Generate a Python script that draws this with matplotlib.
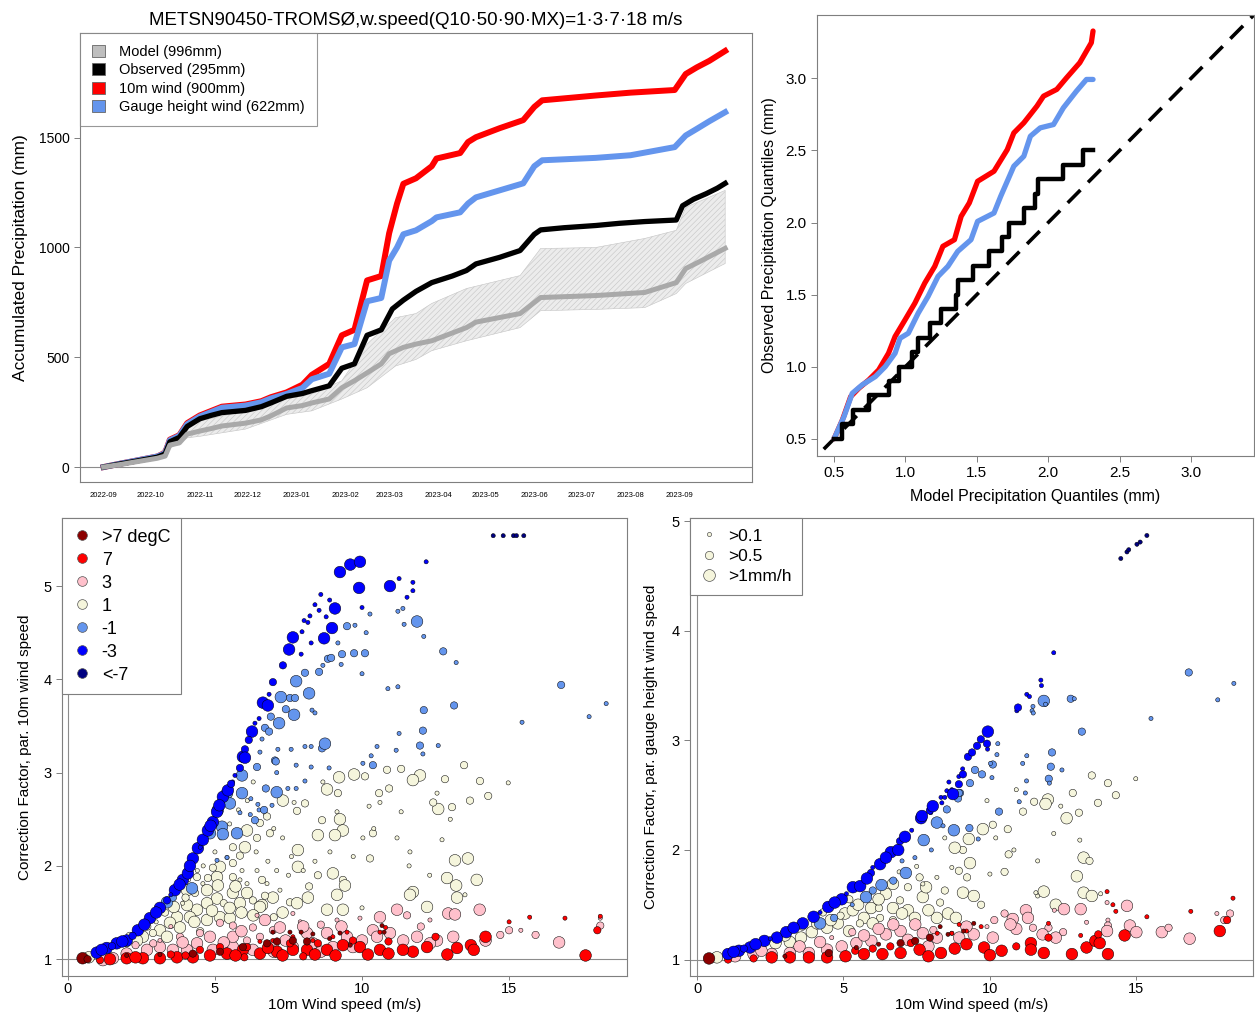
import numpy as np
import pandas as pd
import matplotlib
matplotlib.use("Agg")
import matplotlib.pyplot as plt
from matplotlib.lines import Line2D
from matplotlib.patches import Patch

plt.rcParams["font.family"] = ["Liberation Sans", "DejaVu Sans"]
plt.rcParams["hatch.linewidth"] = 0.4

# ---- accumulated precipitation (mm) ----
obs_dates = ["2022-09-01", "2022-09-12", "2022-09-20", "2022-10-05", "2022-10-10", "2022-10-13",
             "2022-10-19", "2022-10-24", "2022-11-01", "2022-11-08", "2022-11-15", "2022-11-30",
             "2022-12-10", "2022-12-16", "2022-12-26", "2023-01-05", "2023-01-11", "2023-01-22",
             "2023-01-30", "2023-02-07", "2023-02-15", "2023-02-24", "2023-03-03", "2023-03-10",
             "2023-03-18", "2023-03-28", "2023-04-10", "2023-04-19", "2023-04-25", "2023-05-10",
             "2023-05-23", "2023-06-01", "2023-06-05", "2023-06-20", "2023-07-10", "2023-07-25",
             "2023-08-10", "2023-08-30", "2023-09-03", "2023-09-10", "2023-09-18", "2023-09-25",
             "2023-09-30"]
obs_acc = [0, 15, 25, 45, 60, 115, 135, 185, 220, 235, 248, 258, 275, 292, 322, 335, 348, 370,
           450, 470, 600, 625, 720, 760, 800, 840, 870, 895, 925, 955, 986, 1060, 1080, 1090,
           1100, 1110, 1118, 1125, 1190, 1220, 1245, 1270, 1292]

corr_dates = ["2022-09-01", "2022-09-12", "2022-09-20", "2022-10-05", "2022-10-10", "2022-10-13",
              "2022-10-19", "2022-10-24", "2022-11-01", "2022-11-08", "2022-11-15", "2022-11-30",
              "2022-12-10", "2022-12-16", "2022-12-26", "2023-01-05", "2023-01-11", "2023-01-22",
              "2023-01-30", "2023-02-07", "2023-02-15", "2023-02-24", "2023-03-01", "2023-03-06",
              "2023-03-10", "2023-03-18", "2023-03-28", "2023-03-31", "2023-04-15", "2023-04-20",
              "2023-04-25", "2023-05-10", "2023-05-25", "2023-06-01", "2023-06-06", "2023-07-10",
              "2023-08-01", "2023-08-29", "2023-09-05", "2023-09-12", "2023-09-20", "2023-09-30"]
wind10_acc = [0, 16, 27, 48, 65, 125, 145, 200, 235, 255, 275, 285, 300, 318, 340, 375, 420, 470,
              600, 625, 850, 870, 1065, 1200, 1290, 1315, 1370, 1405, 1430, 1480, 1502, 1543, 1580,
              1640, 1670, 1692, 1705, 1717, 1790, 1820, 1850, 1895]
gauge_acc = [0, 16, 27, 48, 63, 122, 142, 195, 230, 250, 270, 280, 295, 312, 333, 360, 400, 425,
             545, 560, 755, 770, 940, 1000, 1060, 1078, 1120, 1137, 1160, 1200, 1228, 1260, 1292,
             1370, 1397, 1408, 1420, 1457, 1510, 1540, 1575, 1616]

model_dates = ["2022-09-01", "2022-09-12", "2022-09-20", "2022-10-05", "2022-10-10", "2022-10-13",
               "2022-10-19", "2022-10-24", "2022-11-01", "2022-11-08", "2022-11-15", "2022-11-30",
               "2022-12-10", "2022-12-16", "2022-12-26", "2023-01-05", "2023-01-11", "2023-01-22",
               "2023-01-30", "2023-02-07", "2023-02-15", "2023-02-24", "2023-03-01", "2023-03-10",
               "2023-03-18", "2023-03-28", "2023-04-19", "2023-04-25", "2023-05-23", "2023-06-05",
               "2023-07-10", "2023-08-10", "2023-08-30", "2023-09-05", "2023-09-15", "2023-09-30"]
model_acc = [0, 12, 22, 40, 50, 100, 110, 150, 164, 175, 187, 200, 215, 233, 269, 280, 292, 310,
             361, 393, 429, 470, 516, 545, 560, 575, 635, 660, 699, 772, 781, 795, 840, 904, 940, 996]

band_dates = ["2022-09-01", "2022-09-20", "2022-10-05", "2022-10-13", "2022-10-24", "2022-11-01",
              "2022-11-30", "2022-12-26", "2023-01-11", "2023-01-30", "2023-02-15", "2023-03-05",
              "2023-03-18", "2023-03-28", "2023-04-19", "2023-05-23", "2023-06-05", "2023-07-10",
              "2023-08-10", "2023-08-30", "2023-09-05", "2023-09-30"]
band_hi = [0, 28, 48, 120, 187, 210, 256, 310, 333, 393, 560, 680, 699, 745, 813, 872, 995, 1000,
           1041, 1078, 1183, 1260]
band_lo = [0, 18, 35, 85, 133, 140, 173, 240, 256, 310, 361, 460, 490, 530, 575, 635, 712, 718,
           726, 790, 836, 927]

month_ticks = ["2022-09", "2022-10", "2022-11", "2022-12", "2023-01", "2023-02", "2023-03",
               "2023-04", "2023-05", "2023-06", "2023-07", "2023-08", "2023-09"]

# ---- quantile-quantile (mm) ----
qq_obs_x = [0.5, 0.553, 0.632, 0.743, 0.881, 0.955, 1.043, 1.089, 1.17, 1.25, 1.355, 1.366, 1.47,
            1.586, 1.678, 1.725, 1.83, 1.91, 1.93, 2.106, 2.244, 2.314]
qq_obs_y = [0.5, 0.6, 0.7, 0.8, 0.9, 1.0, 1.1, 1.2, 1.3, 1.4, 1.5, 1.6, 1.7, 1.8, 1.9, 2.0, 2.1,
            2.2, 2.3, 2.4, 2.5, 2.5]
qq_10m_x = [0.5, 0.558, 0.616, 0.673, 0.743, 0.812, 0.881, 0.927, 0.997, 1.066, 1.135, 1.205, 1.262,
            1.343, 1.39, 1.447, 1.505, 1.62, 1.713, 1.759, 1.829, 1.921, 1.967, 2.06, 2.129, 2.221,
            2.302, 2.314]
qq_10m_y = [0.5, 0.63, 0.792, 0.85, 0.908, 0.977, 1.093, 1.209, 1.325, 1.441, 1.58, 1.696, 1.835,
            1.881, 2.043, 2.136, 2.286, 2.356, 2.506, 2.622, 2.692, 2.808, 2.877, 2.924, 3.005,
            3.109, 3.248, 3.329]
qq_gauge_x = [0.5, 0.569, 0.627, 0.696, 0.789, 0.858, 0.927, 0.962, 1.02, 1.089, 1.158, 1.228,
              1.297, 1.366, 1.459, 1.505, 1.62, 1.667, 1.759, 1.829, 1.875, 1.944, 2.037, 2.106,
              2.198, 2.268, 2.314]
qq_gauge_y = [0.5, 0.653, 0.815, 0.873, 0.931, 1.0, 1.093, 1.197, 1.232, 1.371, 1.487, 1.626,
              1.696, 1.8, 1.881, 2.008, 2.066, 2.182, 2.391, 2.46, 2.599, 2.657, 2.68, 2.796,
              2.912, 2.993, 2.993]

# ---- correction factors: (wind m/s, factor, rain class 0:>0.1 1:>0.5 2:>1mm/h) ----
cf10_navy = [(14.46, 5.54, 0), (14.8, 5.54, 0), (15.15, 5.54, 0), (15.25, 5.54, 0), (15.5, 5.54, 0)]
cf10_blue = [(0.98, 1.07, 2), (1.32, 1.12, 2), (1.66, 1.17, 2), (2.0, 1.2, 2), (2.38, 1.31, 2),
             (2.79, 1.44, 2), (3.13, 1.55, 2), (3.37, 1.63, 1), (3.64, 1.74, 2), (3.91, 1.85, 2),
             (4.08, 1.92, 2), (4.25, 2.08, 2), (4.42, 2.19, 2), (4.59, 2.28, 2), (4.76, 2.38, 2),
             (4.93, 2.47, 2), (5.07, 2.58, 2), (5.27, 2.74, 2), (5.44, 2.81, 2), (5.68, 2.97, 0),
             (5.85, 3.05, 1), (5.95, 3.17, 2), (6.02, 3.25, 1), (6.02, 3.16, 2), (6.26, 3.44, 2),
             (6.36, 3.53, 0), (6.5, 3.58, 0), (6.63, 3.75, 2), (6.8, 3.72, 2), (6.84, 3.84, 0),
             (6.97, 3.97, 1), (7.31, 4.15, 1), (7.52, 4.32, 2), (7.65, 4.45, 2), (7.93, 4.27, 0),
             (7.96, 4.51, 0), (8.03, 4.63, 0), (8.16, 4.61, 0), (8.23, 4.68, 0), (8.27, 4.39, 0),
             (8.4, 4.8, 0), (8.54, 4.74, 0), (8.6, 4.91, 0), (8.71, 4.44, 2), (8.78, 4.67, 0),
             (8.9, 4.85, 0), (8.98, 4.55, 2), (9.08, 4.76, 2), (9.25, 5.15, 2), (9.6, 5.23, 2),
             (9.93, 5.26, 2), (9.9, 4.98, 2), (10.0, 4.77, 0), (10.95, 5.0, 2), (11.26, 5.08, 0),
             (11.53, 4.88, 0), (11.73, 5.04, 0), (11.73, 4.95, 0), (12.18, 5.26, 0), (1.5, 1.14, 1),
             (2.2, 1.25, 1), (2.9, 1.48, 0), (3.5, 1.69, 0), (4.5, 2.2, 0), (5.6, 2.9, 0),
             (1.15, 1.1, 2), (1.85, 1.19, 2), (2.6, 1.37, 2), (3.0, 1.5, 2), (3.8, 1.8, 2),
             (4.15, 2.0, 2), (4.85, 2.43, 2), (5.15, 2.65, 2), (5.55, 2.88, 1), (6.15, 3.35, 1)]
cf10_corn = [(3.37, 1.61, 2), (3.57, 1.66, 1), (4.22, 1.76, 2), (4.83, 2.35, 2), (5.24, 2.42, 2),
             (5.27, 2.34, 2), (5.75, 2.35, 2), (5.41, 2.78, 2), (5.1, 2.6, 2), (5.51, 2.67, 2),
             (5.92, 2.97, 2), (5.92, 2.78, 2), (6.36, 2.49, 1), (6.43, 3.06, 1), (7.04, 3.13, 1),
             (6.2, 2.55, 0), (5.85, 2.57, 0), (5.41, 2.09, 0), (5.07, 2.06, 0), (6.5, 2.6, 0),
             (6.22, 2.72, 0), (6.46, 2.66, 0), (6.67, 2.6, 1), (6.94, 2.65, 0), (6.73, 2.83, 1),
             (7.1, 2.79, 2), (7.48, 2.83, 0), (7.76, 2.83, 0), (8.06, 2.91, 0), (7.1, 3.0, 0),
             (7.07, 3.12, 1), (6.53, 3.22, 0), (6.6, 3.36, 0), (7.14, 3.25, 0), (7.59, 3.25, 0),
             (7.76, 3.08, 0), (8.27, 3.06, 0), (8.88, 3.05, 0), (8.06, 3.28, 0), (8.27, 3.28, 0),
             (8.64, 3.26, 1), (8.74, 3.31, 2), (8.3, 3.67, 0), (8.4, 3.64, 0), (6.7, 3.48, 1),
             (6.84, 3.44, 1), (6.9, 3.6, 1), (7.18, 3.53, 2), (7.41, 3.68, 1), (7.69, 3.62, 2),
             (7.24, 3.81, 2), (7.55, 3.8, 1), (7.72, 3.8, 1), (8.2, 3.85, 2), (7.76, 3.98, 2),
             (8.06, 4.07, 1), (8.54, 4.08, 1), (8.67, 4.15, 0), (9.29, 4.16, 0), (9.18, 4.39, 0),
             (8.84, 4.22, 1), (8.95, 4.23, 1), (9.32, 4.27, 1), (9.73, 4.28, 1), (10.1, 4.28, 1),
             (9.49, 4.57, 1), (9.76, 4.58, 0), (10.27, 4.7, 0), (10.14, 4.5, 0), (11.22, 4.73, 0),
             (11.39, 4.76, 0), (11.43, 4.59, 0), (12.1, 4.46, 0), (11.87, 4.62, 2), (12.76, 4.3, 1),
             (13.2, 4.18, 0), (16.77, 3.94, 1), (18.3, 3.74, 0), (17.72, 3.6, 0), (15.44, 3.54, 0),
             (13.13, 3.72, 1), (12.1, 3.67, 1), (12.07, 3.45, 1), (11.97, 3.29, 1), (12.07, 3.2, 0),
             (12.59, 3.29, 0), (11.26, 3.42, 0), (11.22, 3.92, 0), (10.88, 3.9, 0), (10.0, 4.06, 0),
             (10.37, 3.08, 1), (10.03, 3.1, 0), (10.31, 3.18, 0), (10.51, 3.28, 0), (11.16, 3.24, 0)]
cf10_beige = [(13.47, 3.08, 1), (14.01, 2.91, 1), (14.97, 2.89, 0), (14.29, 2.75, 1), (13.67, 2.7, 1),
              (13.06, 2.63, 1), (12.59, 2.61, 2), (12.42, 2.68, 1), (12.55, 2.78, 0), (12.82, 2.93, 1),
              (11.97, 2.97, 2), (11.73, 2.92, 2), (11.33, 3.04, 1), (10.85, 3.03, 1), (10.92, 2.83, 1),
              (10.58, 2.78, 1), (10.61, 2.68, 0), (10.24, 2.64, 0), (11.33, 2.58, 0), (10.1, 2.96, 1),
              (9.73, 2.98, 2), (9.22, 2.95, 2), (8.81, 2.82, 2), (9.18, 2.78, 1), (7.79, 2.59, 1),
              (7.31, 2.7, 2), (8.06, 2.67, 1), (8.67, 2.9, 0), (7.69, 2.68, 0), (9.15, 2.58, 0),
              (6.73, 2.55, 0), (6.77, 2.53, 1), (8.64, 2.49, 1), (9.25, 2.5, 2), (9.35, 2.38, 2),
              (9.08, 2.33, 2), (8.5, 2.33, 2), (10.37, 2.35, 1), (12.72, 2.28, 0), (11.19, 2.3, 0),
              (10.03, 2.3, 0), (7.82, 2.17, 2), (8.91, 2.15, 0), (10.27, 2.08, 1), (11.63, 2.15, 0),
              (13.16, 2.06, 2), (7.82, 1.99, 2), (9.01, 1.92, 2), (9.35, 1.85, 1), (9.42, 1.79, 2),
              (12.89, 1.87, 2), (9.15, 1.69, 2), (8.2, 1.78, 1), (8.16, 1.66, 2), (7.55, 1.61, 1),
              (6.97, 1.66, 2), (6.6, 1.58, 2), (7.79, 1.6, 2), (8.81, 1.53, 2), (9.35, 1.53, 2),
              (11.73, 1.72, 2), (11.63, 1.69, 2), (12.21, 1.56, 2), (13.23, 1.66, 2), (10.0, 1.55, 0),
              (13.6, 2.08, 2), (13.9, 1.85, 2), (13.2, 1.79, 2), (13.5, 1.69, 0),
              (6.02, 2.2, 2), (6.09, 2.38, 2), (6.43, 2.3, 1), (6.87, 2.35, 1), (6.53, 2.46, 1),
              (5.61, 2.2, 1), (5.85, 2.11, 1), (5.41, 2.09, 0), (5.17, 1.99, 2), (5.61, 1.88, 1),
              (5.07, 1.88, 2), (4.76, 1.87, 1), (5.1, 1.79, 2), (4.59, 1.81, 0), (4.73, 1.74, 2),
              (5.61, 1.71, 2), (6.09, 1.71, 2), (5.85, 1.6, 2), (6.29, 1.63, 1), (6.53, 1.56, 2),
              (5.07, 1.65, 2), (4.73, 1.6, 2), (4.39, 1.53, 2), (4.05, 1.58, 2), (4.15, 1.45, 2),
              (4.73, 1.42, 2), (5.17, 1.45, 2), (5.51, 1.44, 2), (3.71, 1.45, 2), (3.47, 1.39, 2),
              (3.81, 1.34, 2), (3.13, 1.31, 2), (2.89, 1.28, 1), (2.55, 1.24, 2), (3.37, 1.24, 2),
              (4.05, 1.74, 2), (4.39, 1.88, 1), (4.32, 1.71, 1), (4.93, 1.98, 1), (5.61, 2.03, 1),
              (5.92, 1.95, 0), (6.43, 1.95, 0), (6.09, 1.81, 0), (6.77, 1.81, 0), (7.21, 1.74, 0),
              (5.85, 1.85, 0), (0.71, 1.02, 2), (2.0, 1.17, 1), (2.35, 1.2, 2),
              (5.2, 2.3, 0), (5.5, 2.45, 0), (5.8, 2.6, 0), (6.1, 2.7, 0), (6.3, 2.9, 0),
              (7.0, 2.4, 0), (7.3, 2.3, 0), (7.6, 2.1, 0), (8.0, 1.95, 0), (8.4, 2.05, 0),
              (9.7, 2.1, 0), (10.4, 2.4, 0), (11.6, 2.0, 0), (12.3, 1.9, 0), (13.0, 2.5, 0),
              (7.5, 1.9, 0), (6.8, 2.05, 0), (4.4, 1.95, 0), (3.9, 1.6, 0), (3.0, 1.4, 0),
              (4.5, 1.3, 1), (5.9, 1.5, 2), (7.0, 1.45, 1), (8.5, 1.9, 1),
              (3.3, 1.5, 1), (3.6, 1.56, 2), (4.0, 1.66, 1), (4.3, 1.4, 2), (4.9, 1.52, 2),
              (5.3, 1.6, 1), (5.5, 1.55, 2), (6.3, 1.47, 2), (6.7, 1.68, 1), (7.3, 1.5, 2),
              (7.1, 1.95, 0), (6.4, 2.15, 0), (5.0, 2.15, 0), (4.6, 2.0, 0), (4.1, 1.85, 0),
              (3.6, 1.72, 0), (2.7, 1.35, 1), (2.1, 1.25, 1), (5.7, 1.78, 2), (6.6, 1.85, 1)]
cf10_pink = [(11.19, 1.53, 2), (10.61, 1.45, 2), (11.53, 1.47, 1), (12.93, 1.49, 2), (12.31, 1.42, 0),
             (9.15, 1.42, 0), (9.93, 1.44, 0), (7.65, 1.49, 0), (6.7, 1.42, 2), (6.43, 1.47, 0),
             (5.17, 1.39, 1), (5.61, 1.36, 1), (6.29, 1.34, 1), (6.97, 1.31, 1), (7.21, 1.34, 2),
             (8.13, 1.28, 2), (8.81, 1.28, 2), (9.49, 1.24, 2), (10.37, 1.31, 2), (10.95, 1.28, 2),
             (11.87, 1.24, 2), (12.55, 1.2, 2), (13.1, 1.24, 2), (12.31, 1.17, 2), (9.69, 1.13, 2),
             (9.01, 1.13, 2), (7.65, 1.13, 2), (6.97, 1.15, 2), (6.29, 1.1, 2), (5.61, 1.13, 2),
             (4.93, 1.1, 2), (4.39, 1.17, 2), (4.05, 1.1, 2), (3.57, 1.1, 2), (3.13, 1.13, 2),
             (2.69, 1.1, 2), (2.0, 1.06, 2), (1.53, 1.01, 2), (1.19, 0.99, 2), (4.83, 1.24, 2),
             (4.49, 1.28, 1), (3.81, 1.24, 1), (3.13, 1.2, 0), (5.61, 1.24, 2), (6.09, 1.2, 1),
             (6.53, 1.24, 1), (8.33, 1.17, 2), (10.51, 1.24, 2), (13.16, 1.48, 2), (14.0, 1.53, 2),
             (15.0, 1.31, 1), (15.9, 1.26, 1), (16.7, 1.18, 2), (18.1, 1.44, 0), (18.1, 1.36, 1),
             (14.2, 1.2, 2), (14.7, 1.26, 1), (15.4, 1.31, 0), (7.9, 1.4, 0), (8.6, 1.37, 1),
             (3.5, 1.35, 0), (2.3, 1.15, 1), (5.3, 1.18, 2), (5.9, 1.3, 2), (7.4, 1.2, 2),
             (8.0, 1.35, 2), (9.3, 1.35, 2), (11.4, 1.2, 2), (12.0, 1.35, 1), (3.9, 1.18, 2),
             (2.9, 1.17, 1), (7.0, 1.08, 2), (8.6, 1.08, 2), (10.0, 1.2, 2)]
cf10_red = [(14.2, 1.24, 2), (13.7, 1.15, 2), (13.8, 1.1, 2), (17.6, 1.04, 2), (18.0, 1.31, 1),
            (18.1, 1.46, 0), (16.9, 1.44, 0), (15.7, 1.45, 0), (15.0, 1.4, 0), (11.73, 1.08, 2),
            (11.39, 1.1, 2), (13.23, 1.12, 2), (12.21, 1.13, 2), (10.61, 1.1, 2), (9.93, 1.13, 2),
            (9.35, 1.15, 2), (8.81, 1.1, 2), (8.13, 1.1, 2), (7.65, 1.1, 2), (7.11, 1.08, 2),
            (6.53, 1.06, 2), (5.95, 1.1, 2), (5.41, 1.06, 2), (4.83, 1.04, 2), (4.25, 1.02, 2),
            (3.71, 1.02, 2), (3.13, 1.01, 2), (2.55, 1.01, 2), (2.0, 1.01, 2), (1.43, 1.0, 2),
            (1.09, 0.99, 1), (7.65, 1.24, 0), (8.33, 1.2, 0), (9.01, 1.24, 0), (9.49, 1.29, 0),
            (10.61, 1.29, 0), (10.8, 1.34, 0), (6.97, 1.2, 0), (6.53, 1.19, 0), (6.09, 1.13, 1),
            (5.17, 1.13, 1), (4.49, 1.1, 1), (7.55, 1.17, 1), (8.5, 1.17, 1), (9.69, 1.2, 1),
            (10.9, 1.19, 1), (12.5, 1.24, 1), (12.9, 1.05, 2), (10.2, 1.05, 2), (8.0, 1.03, 1),
            (6.0, 1.02, 1), (3.5, 1.05, 1), (5.7, 1.04, 2), (6.8, 1.12, 2), (8.4, 1.05, 2),
            (9.1, 1.04, 2), (10.9, 1.06, 2), (2.3, 1.02, 2), (4.0, 1.04, 1), (7.3, 1.04, 2)]
cf10_darkred = [(0.5, 1.01, 2), (0.67, 1.0, 1), (6.97, 1.29, 0), (7.55, 1.29, 0), (7.93, 1.29, 0),
                (8.33, 1.27, 0), (9.25, 1.28, 0), (7.65, 1.2, 1), (7.11, 1.19, 1), (8.13, 1.19, 1),
                (6.77, 1.17, 1), (5.95, 1.13, 1), (5.17, 1.08, 1), (4.25, 1.06, 1), (3.13, 1.05, 0),
                (2.0, 1.04, 0), (10.68, 1.36, 0), (10.75, 1.29, 0), (8.9, 1.22, 0), (9.6, 1.15, 0)]

cfg_navy = [(14.47, 4.66, 0), (14.68, 4.72, 0), (14.74, 4.74, 0), (15.02, 4.79, 0), (15.13, 4.81, 0),
            (15.36, 4.87, 0)]
cfg_blue = [(1.06, 1.05, 2), (1.43, 1.08, 2), (1.81, 1.11, 2), (2.3, 1.17, 2), (2.73, 1.2, 2),
            (3.05, 1.25, 2), (3.61, 1.33, 2), (3.98, 1.39, 2), (4.48, 1.48, 2), (4.94, 1.55, 2),
            (5.32, 1.66, 2), (5.57, 1.67, 2), (5.94, 1.79, 1), (6.25, 1.87, 2), (6.62, 1.98, 2),
            (6.87, 2.0, 2), (6.93, 2.08, 1), (7.33, 2.18, 0), (7.65, 2.29, 2), (7.98, 2.34, 0),
            (8.33, 2.48, 0), (8.7, 2.55, 0), (8.94, 2.6, 1), (7.68, 2.31, 2), (7.95, 2.36, 1),
            (8.36, 2.43, 0), (8.46, 2.48, 0), (8.53, 2.54, 0), (8.6, 2.62, 0), (8.74, 2.51, 2),
            (8.94, 2.67, 0), (9.07, 2.74, 0), (9.08, 2.69, 1), (9.25, 2.85, 1), (9.39, 2.89, 1),
            (9.56, 2.95, 1), (9.69, 3.01, 1), (9.9, 2.97, 1), (9.92, 2.92, 0), (9.93, 3.08, 2),
            (10.92, 3.27, 0), (10.96, 3.3, 1), (11.26, 3.42, 0), (11.35, 3.4, 0), (11.74, 3.55, 0),
            (11.76, 3.5, 0), (12.18, 3.8, 0), (1.6, 1.1, 1), (2.5, 1.19, 0), (4.2, 1.43, 0),
            (5.1, 1.6, 0), (6.0, 1.84, 0), (1.25, 1.07, 2), (2.0, 1.14, 2), (3.3, 1.29, 2),
            (4.7, 1.52, 2), (5.8, 1.74, 2), (6.45, 1.93, 2), (7.1, 2.12, 2), (8.05, 2.4, 2)]
cfg_corn = [(16.79, 3.62, 1), (18.33, 3.52, 0), (17.78, 3.37, 0), (15.5, 3.2, 0), (13.14, 3.08, 1),
            (12.76, 3.38, 1), (12.88, 3.38, 0), (11.84, 3.36, 2), (11.9, 3.33, 0), (11.47, 3.31, 0),
            (11.44, 3.27, 0), (11.48, 3.25, 0), (12.12, 2.89, 1), (12.08, 2.76, 1), (12.01, 2.65, 1),
            (12.03, 2.61, 0), (12.46, 2.73, 0), (11.26, 2.86, 0), (11.12, 2.79, 0), (11.25, 2.63, 0),
            (11.21, 2.52, 0), (11.0, 2.44, 0), (10.27, 2.97, 0), (10.24, 2.87, 0), (10.1, 2.78, 1),
            (10.02, 2.79, 0), (10.07, 2.66, 0), (9.73, 2.69, 1), (9.49, 2.73, 1), (9.32, 2.61, 1),
            (8.98, 2.52, 1), (8.91, 2.47, 1), (8.53, 2.37, 1), (10.31, 2.35, 1), (4.2, 1.33, 2),
            (4.68, 1.38, 1), (5.77, 1.57, 2), (6.3, 1.68, 2), (6.7, 1.72, 1), (7.13, 1.79, 2),
            (7.44, 1.93, 0), (7.74, 2.09, 2), (8.19, 2.25, 2), (8.77, 2.18, 2), (8.94, 2.52, 1),
            (8.4, 2.22, 0), (9.6, 2.1, 0), (9.3, 2.2, 1), (6.0, 1.63, 1), (5.3, 1.5, 0),
            (7.0, 1.9, 0), (8.0, 2.0, 0)]
cfg_beige = [(13.48, 2.68, 1), (14.03, 2.61, 1), (14.98, 2.65, 0), (14.3, 2.5, 1), (13.69, 2.43, 1),
             (12.83, 2.52, 1), (13.04, 2.34, 1), (12.42, 2.4, 0), (11.98, 2.46, 2), (11.9, 2.42, 2),
             (11.51, 2.44, 1), (11.13, 2.35, 1), (12.62, 2.29, 2), (12.18, 2.15, 0), (13.07, 2.09, 0),
             (13.2, 1.93, 2), (13.4, 1.9, 1), (12.97, 1.76, 2), (13.2, 1.61, 2), (13.48, 1.58, 2),
             (13.78, 1.6, 0), (11.84, 1.62, 2), (11.63, 1.58, 0), (11.57, 1.61, 0), (12.25, 1.5, 2),
             (11.63, 1.9, 0), (10.82, 2.0, 0), (10.64, 1.96, 1), (10.5, 1.8, 1), (9.76, 2.19, 2),
             (10.1, 2.23, 1), (10.61, 2.19, 1), (10.2, 2.11, 0), (10.0, 1.78, 0),
             (0.68, 1.02, 2), (1.93, 1.11, 2), (2.68, 1.15, 2), (3.17, 1.16, 2), (3.55, 1.2, 2),
             (3.92, 1.25, 2), (4.44, 1.29, 2), (4.81, 1.33, 2), (5.19, 1.26, 2), (4.57, 1.36, 2),
             (5.05, 1.42, 2), (5.32, 1.45, 2), (5.7, 1.38, 2), (5.94, 1.47, 2), (5.56, 1.33, 1),
             (6.25, 1.38, 1), (6.69, 1.36, 1), (6.69, 1.47, 2), (6.93, 1.54, 1), (7.2, 1.45, 2),
             (7.44, 1.38, 2), (7.71, 1.57, 2), (8.19, 1.38, 2), (8.57, 1.42, 2), (8.84, 1.38, 2),
             (7.82, 1.66, 2), (8.46, 1.63, 1), (9.08, 1.61, 2), (9.45, 1.58, 2), (9.22, 1.75, 1),
             (9.32, 1.88, 2), (9.08, 2.0, 1), (9.28, 2.1, 2), (8.94, 1.81, 1), (6.69, 1.69, 2),
             (6.45, 1.6, 2), (6.21, 1.47, 1), (7.2, 1.66, 1), (8.19, 1.75, 0), (7.71, 1.69, 0),
             (8.7, 1.84, 0), (8.8, 2.02, 2), (8.46, 2.11, 0), (7.5, 1.85, 0), (6.9, 1.8, 0),
             (5.9, 1.6, 0), (5.2, 1.55, 1), (4.3, 1.43, 1), (3.6, 1.3, 1), (2.2, 1.08, 1),
             (10.9, 2.55, 0), (9.9, 2.45, 0), (3.0, 1.22, 2), (4.1, 1.33, 2), (4.9, 1.4, 1),
             (5.5, 1.5, 2), (6.0, 1.33, 2), (7.0, 1.42, 2), (7.9, 1.45, 2), (8.3, 1.52, 1),
             (9.7, 1.5, 1), (6.2, 1.55, 2), (7.6, 1.75, 1)]
cfg_pink = [(14.68, 1.49, 2), (14.0, 1.52, 0), (13.1, 1.46, 2), (13.3, 1.34, 0), (14.03, 1.36, 0),
            (14.03, 1.31, 1), (14.78, 1.31, 2), (15.0, 1.25, 2), (15.87, 1.25, 2), (16.1, 1.29, 1),
            (16.82, 1.19, 2), (17.75, 1.42, 0), (18.0, 1.36, 1), (18.2, 1.42, 1), (12.53, 1.46, 2),
            (12.2, 1.45, 0), (11.23, 1.45, 2), (11.3, 1.38, 2), (10.78, 1.37, 2), (10.5, 1.42, 1),
            (10.15, 1.36, 1), (10.9, 1.28, 2), (11.47, 1.29, 1), (12.0, 1.29, 1), (12.5, 1.25, 1),
            (12.25, 1.2, 2), (11.8, 1.23, 2), (14.0, 1.26, 2), (6.95, 1.26, 2), (6.45, 1.23, 2),
            (5.95, 1.17, 2), (5.44, 1.15, 2), (4.94, 1.12, 2), (4.44, 1.09, 2), (3.82, 1.06, 2),
            (3.17, 1.06, 2), (2.55, 1.05, 2), (1.93, 1.05, 2), (1.3, 1.03, 2), (7.71, 1.24, 2),
            (8.19, 1.2, 2), (8.95, 1.2, 2), (9.45, 1.23, 2), (10.1, 1.2, 2), (10.7, 1.32, 2),
            (7.45, 1.32, 2), (6.7, 1.32, 2), (8.07, 1.27, 1), (8.7, 1.24, 0), (5.3, 1.25, 1),
            (4.6, 1.2, 0), (9.9, 1.3, 0), (3.5, 1.12, 2), (4.2, 1.16, 2), (5.7, 1.22, 2),
            (6.2, 1.28, 2), (7.2, 1.18, 2), (7.9, 1.12, 2), (9.2, 1.3, 2), (2.2, 1.08, 2)]
cfg_red = [(17.85, 1.26, 2), (18.1, 1.36, 1), (18.3, 1.56, 0), (16.86, 1.44, 0), (15.36, 1.39, 0),
           (14.2, 1.5, 0), (14.3, 1.44, 0), (14.6, 1.22, 2), (14.03, 1.05, 2), (13.3, 1.11, 2),
           (13.6, 1.17, 2), (13.75, 1.15, 2), (13.7, 1.23, 1), (13.1, 1.22, 0), (14.0, 1.62, 0),
           (11.84, 1.06, 2), (11.4, 1.15, 2), (11.4, 1.09, 2), (12.0, 1.2, 1), (10.4, 1.08, 2),
           (9.8, 1.11, 2), (9.2, 1.14, 2), (8.33, 1.06, 2), (7.6, 1.09, 2), (6.95, 1.06, 2),
           (6.33, 1.05, 2), (5.7, 1.05, 2), (5.07, 1.03, 2), (4.44, 1.02, 2), (3.82, 1.02, 2),
           (3.17, 1.02, 2), (2.55, 1.02, 2), (1.93, 1.01, 1), (1.06, 1.0, 1), (8.7, 1.24, 0),
           (9.2, 1.26, 0), (8.95, 1.32, 0), (8.2, 1.24, 0), (9.7, 1.3, 0), (12.0, 1.33, 0),
           (10.9, 1.12, 1), (7.3, 1.15, 1), (6.0, 1.1, 1), (12.8, 1.05, 2), (8.8, 1.1, 2),
           (10.0, 1.04, 2), (7.9, 1.03, 2), (6.6, 1.12, 1), (5.4, 1.08, 1)]
cfg_darkred = [(0.41, 1.01, 2), (9.45, 1.33, 0), (9.1, 1.26, 0), (8.57, 1.23, 0), (7.95, 1.2, 1),
               (7.45, 1.17, 1), (6.95, 1.15, 1), (6.2, 1.14, 0), (5.44, 1.11, 0), (4.5, 1.06, 1),
               (3.0, 1.03, 0), (8.3, 1.3, 0)]

temp_labels = [">7 degC", "7", "3", "1", "-1", "-3", "<-7"]
temp_colors = ["#8B0000", "#FF0000", "#FFC0CB", "#F5F5DC", "#6495ED", "#0000FF", "#000080"]
rain_labels = [">0.1", ">0.5", ">1mm/h"]

SIZES = np.array([9, 28, 70])
SPINE = "#7f7f7f"

fig = plt.figure(figsize=(12.55, 10.16), dpi=100)


def style_axes(ax, fs):
    for s in ax.spines.values():
        s.set_color(SPINE)
        s.set_linewidth(0.8)
    ax.tick_params(direction="out", length=4, width=0.7, color=SPINE, labelsize=fs)


# ---------------- top left: accumulated precipitation ----------------
ax1 = fig.add_axes([0.0637, 0.5256, 0.5355, 0.442])
style_axes(ax1, 10)
bd = pd.to_datetime(band_dates)
ax1.fill_between(bd, band_lo, band_hi, facecolor="#ececec",
                 edgecolor="#c4c4c4", hatch="//////", linewidth=0.4, zorder=1)
ax1.plot(pd.to_datetime(corr_dates), wind10_acc, color="#FF0000", lw=4.3, zorder=3)
ax1.plot(pd.to_datetime(corr_dates), gauge_acc, color="#6495ED", lw=4.3, zorder=4)
ax1.plot(pd.to_datetime(obs_dates), obs_acc, color="black", lw=3.8, zorder=5)
ax1.plot(pd.to_datetime(model_dates), model_acc, color="#A9A9A9", lw=3.6, zorder=6)
ax1.axhline(0, color="#8c8c8c", lw=0.8, zorder=0)
ax1.set_xlim(pd.Timestamp("2022-08-17"), pd.Timestamp("2023-10-17"))
ax1.set_ylim(-68, 1977)
ax1.set_yticks([0, 500, 1000, 1500])
mt = pd.to_datetime(month_ticks)
ax1.set_xticks(mt)
ax1.set_xticklabels(month_ticks, fontsize=5.5)
ax1.tick_params(axis="x", length=0, pad=7)
ax1.set_ylabel("Accumulated Precipitation (mm)", fontsize=12.5, labelpad=8)
ax1.set_title("METSN90450-TROMSØ,w.speed(Q10·50·90·MX)=1·3·7·18 m/s", fontsize=13.5, pad=6)
h1 = [Patch(facecolor="#BEBEBE", edgecolor="#666666", lw=0.6),
      Patch(facecolor="black", edgecolor="#666666", lw=0.6),
      Patch(facecolor="#FF0000", edgecolor="#666666", lw=0.6),
      Patch(facecolor="#6495ED", edgecolor="#666666", lw=0.6)]
leg1 = ax1.legend(h1, ["Model (996mm)", "Observed (295mm)", "10m wind (900mm)",
                       "Gauge height wind (622mm)"],
                  loc="upper left", fontsize=10.5, frameon=True, fancybox=False,
                  borderaxespad=0, handlelength=0.9, handleheight=0.9, labelspacing=0.3,
                  handletextpad=1.0, borderpad=0.8)
leg1.get_frame().set_edgecolor(SPINE)
leg1.get_frame().set_linewidth(0.8)

# ---------------- top right: quantile-quantile ----------------
ax2 = fig.add_axes([0.651, 0.5512, 0.348, 0.434])
style_axes(ax2, 11)
ax2.plot([0, 4], [0, 4], color="black", lw=2.6, ls=(0, (5, 3)), zorder=1)
ax2.plot(qq_10m_x, qq_10m_y, color="#FF0000", lw=3.8, zorder=2, solid_capstyle="round")
ax2.plot(qq_gauge_x, qq_gauge_y, color="#6495ED", lw=3.8, zorder=3, solid_capstyle="round")
ax2.plot(qq_obs_x, qq_obs_y, color="black", lw=3.2, drawstyle="steps-post", zorder=4)
ax2.set_xlim(0.38, 3.44)
ax2.set_ylim(0.38, 3.44)
ticks = [0.5, 1.0, 1.5, 2.0, 2.5, 3.0]
ax2.set_xticks(ticks)
ax2.set_yticks(ticks)
ax2.set_xticklabels([f"{t:.1f}" for t in ticks])
ax2.set_yticklabels([f"{t:.1f}" for t in ticks])
ax2.set_xlabel("Model Precipitation Quantiles (mm)", fontsize=11.5, labelpad=6)
ax2.set_ylabel("Observed Precipitation Quantiles (mm)", fontsize=11.5, labelpad=6)


# ---------------- bottom: correction factor scatters ----------------
def scatter_panel(ax, groups):
    for pts, col in groups:
        arr = np.array(pts)
        ax.scatter(arr[:, 0], arr[:, 1], s=SIZES[arr[:, 2].astype(int)], c=col,
                   edgecolors="black", linewidths=0.35, zorder=3)
    ax.axhline(1, color="#8c8c8c", lw=0.8, zorder=1)
    ax.axvline(0, color="#8c8c8c", lw=0.8, zorder=1)
    ax.set_xticks([0, 5, 10, 15])
    ax.tick_params(axis="x", length=3, pad=1.5)
    ax.set_xlabel("10m Wind speed (m/s)", fontsize=11, labelpad=1)


ax3 = fig.add_axes([0.0494, 0.0394, 0.450, 0.4508])
style_axes(ax3, 10.5)
scatter_panel(ax3, [(cf10_beige, temp_colors[3]), (cf10_pink, temp_colors[2]),
                    (cf10_red, temp_colors[1]), (cf10_darkred, temp_colors[0]),
                    (cf10_corn, temp_colors[4]), (cf10_blue, temp_colors[5]),
                    (cf10_navy, temp_colors[6])])
ax3.set_xlim(-0.2, 19.0)
ax3.set_ylim(0.82, 5.73)
ax3.set_yticks([1, 2, 3, 4, 5])
ax3.set_ylabel("Correction Factor, par. 10m wind speed", fontsize=11, labelpad=8)
h3 = [Line2D([], [], ls="none", marker="o", markersize=7, markerfacecolor=c,
             markeredgecolor="#555555", markeredgewidth=0.5) for c in temp_colors]
leg3 = ax3.legend(h3, temp_labels, loc="upper left", fontsize=13, frameon=True, fancybox=False,
                  borderaxespad=0, handlelength=1.0, labelspacing=0.33, handletextpad=0.6,
                  borderpad=0.6, framealpha=1)
leg3.get_frame().set_edgecolor(SPINE)
leg3.get_frame().set_linewidth(0.8)

ax4 = fig.add_axes([0.5498, 0.0394, 0.449, 0.4508])
style_axes(ax4, 10.5)
scatter_panel(ax4, [(cfg_beige, temp_colors[3]), (cfg_pink, temp_colors[2]),
                    (cfg_red, temp_colors[1]), (cfg_darkred, temp_colors[0]),
                    (cfg_corn, temp_colors[4]), (cfg_blue, temp_colors[5]),
                    (cfg_navy, temp_colors[6])])
ax4.set_xlim(-0.24, 19.0)
ax4.set_ylim(0.85, 5.03)
ax4.set_yticks([1, 2, 3, 4, 5])
ax4.set_ylabel("Correction Factor, par. gauge height wind speed", fontsize=11, labelpad=10)
h4 = [Line2D([], [], ls="none", marker="o", markersize=ms, markerfacecolor=temp_colors[3],
             markeredgecolor="#555555", markeredgewidth=0.5) for ms in (3, 6, 8.5)]
leg4 = ax4.legend(h4, rain_labels, loc="upper left", fontsize=12.5, frameon=True, fancybox=False,
                  borderaxespad=0, handlelength=1.0, labelspacing=0.3, handletextpad=0.6,
                  borderpad=0.6, framealpha=1)
leg4.get_frame().set_edgecolor(SPINE)
leg4.get_frame().set_linewidth(0.8)

fig.savefig("out.png", dpi=100)
